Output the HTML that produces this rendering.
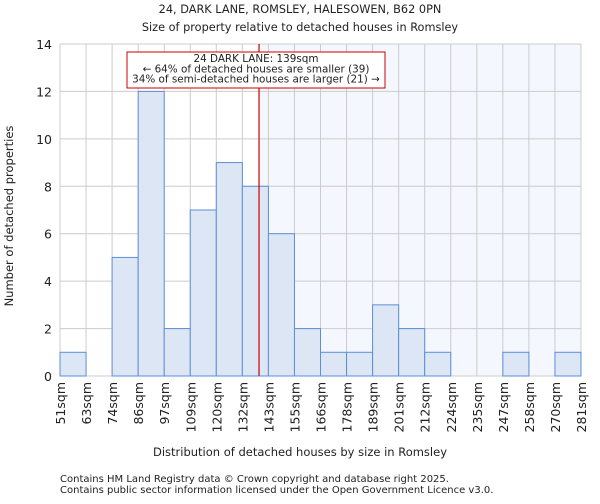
<!DOCTYPE html>
<html><head><meta charset="utf-8"><style>
body{margin:0;background:#fff;font-family:"DejaVu Sans","Liberation Sans",sans-serif;}
svg text{font-family:"DejaVu Sans","Liberation Sans",sans-serif;fill:#222;}
</style></head><body>
<svg id="chart" width="600" height="500">
<text x="300" y="13" font-size="11.3" text-anchor="middle">24, DARK LANE, ROMSLEY, HALESOWEN, B62 0PN</text>
<text x="300" y="31" font-size="11.3" text-anchor="middle">Size of property relative to detached houses in Romsley</text>
<g id="plot"></g>
<text x="300" y="456" font-size="11.5" text-anchor="middle">Distribution of detached houses by size in Romsley</text>
<text transform="translate(13,216) rotate(-90)" font-size="11.5" text-anchor="middle">Number of detached properties</text>
<text x="60" y="482" font-size="10">Contains HM Land Registry data © Crown copyright and database right 2025.</text>
<text x="60" y="493" font-size="10">Contains public sector information licensed under the Open Government Licence v3.0.</text>
</svg>
<script>
const categories=["51sqm","63sqm","74sqm","86sqm","97sqm","109sqm","120sqm","132sqm","143sqm","155sqm","166sqm","178sqm","189sqm","201sqm","212sqm","224sqm","235sqm","247sqm","258sqm","270sqm","281sqm"];
const counts=[1,0,5,12,2,7,9,8,6,2,1,1,3,2,1,0,0,1,0,1];
const yTicks=[0,2,4,6,8,10,12,14];
const markerBin=7.64;
const NS="http://www.w3.org/2000/svg";
const g=document.getElementById('plot');
const X0=60,X1=581,Y0=376,Y1=44,yMax=14;
const bw=(X1-X0)/counts.length;
const xs=i=>X0+i*bw;
const ys=v=>Y0-(v/yMax)*(Y0-Y1);
function el(t,a){const e=document.createElementNS(NS,t);for(const k in a)e.setAttribute(k,a[k]);g.appendChild(e);return e;}
const mx=xs(markerBin);
const bg=el('rect',{x:mx,y:Y1,width:X1-mx,height:Y0-Y1,fill:'#f4f7fd'});


for(let i=0;i<=counts.length;i++){const l=el('line',{x1:xs(i),x2:xs(i),y1:Y1,y2:Y0,stroke:'#cccccc'});

}
yTicks.forEach(t=>{const l=el('line',{x1:X0,x2:X1,y1:ys(t),y2:ys(t),stroke:'#cccccc'});


const tx=el('text',{x:X0-8,y:ys(t)+5,'font-size':12.5,'text-anchor':'end'});tx.textContent=t;

});
counts.forEach((c,i)=>{if(c<=0)return;const r=el('rect',{x:xs(i),y:ys(c),width:bw,height:Y0-ys(c),fill:'#dce6f5',stroke:'#5b8fd6','stroke-width':1});

});
categories.forEach((c,i)=>{const x=xs(i);const t=el('text',{transform:`translate(${x+5},382) rotate(-90)`,'font-size':12.5,'text-anchor':'end'});t.textContent=c;

});
const ml=el('line',{x1:mx,x2:mx,y1:Y1,y2:Y0,stroke:'#cc0000','stroke-width':1.2});


const box=el('rect',{x:127,y:52,width:258,height:36,fill:'#fff',stroke:'#cc0000'});


["24 DARK LANE: 139sqm","← 64% of detached houses are smaller (39)","34% of semi-detached houses are larger (21) →"].forEach((s,k)=>{const t=el('text',{x:256,y:62+k*10.3,'font-size':10.4,'text-anchor':'middle'});t.textContent=s;

});
</script>
</body></html>
